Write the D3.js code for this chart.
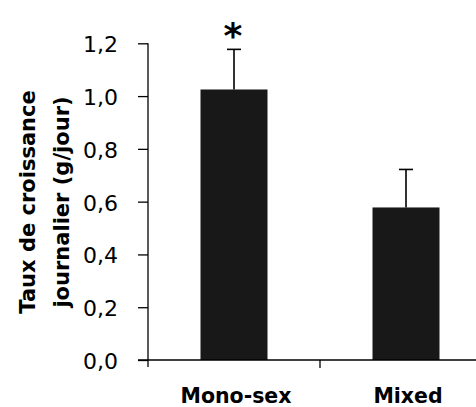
<!DOCTYPE html>
<html>
<head>
<meta charset="utf-8">
<script src="https://cdn.jsdelivr.net/npm/d3@7"></script>
<style>
html, body { margin: 0; padding: 0; background: #fff; }
svg { display: block; }
</style>
</head>
<body>
<svg id="chart" width="476" height="407"></svg>
<script>
const categories = ["Mono-sex", "Mixed"];
const means = [1.025, 0.578];
const errors = [0.152, 0.144];
const significance = ["*", ""];
const yTicks = [0, 0.2, 0.4, 0.6, 0.8, 1.0, 1.2];
const yTitleLines = ["Taux de croissance", "journalier (g/jour)"];

const svg = d3.select("#chart");
const font = "'DejaVu Sans', sans-serif";

const x0 = 148, yBottom = 360, yTop = 43.3;
const bandW = 172;
const x = d3.scaleBand().domain(categories).range([x0, x0 + bandW * categories.length]).paddingInner(0).paddingOuter(0);
const y = d3.scaleLinear().domain([0, 1.2]).range([yBottom, yTop]);
const barW = 67;

// bars
svg.selectAll("rect.bar").data(categories).enter().append("rect")
  .attr("class", "bar")
  .attr("x", d => x(d) + x.bandwidth() / 2 - barW / 2)
  .attr("y", (d, i) => y(means[i]))
  .attr("width", barW)
  .attr("height", (d, i) => y(0) - y(means[i]))
  .attr("fill", "#181818");

// error bars (upper only)
const eb = svg.append("g").attr("stroke", "#000").attr("stroke-width", 1.6);
categories.forEach((c, i) => {
  const cx = x(c) + x.bandwidth() / 2;
  eb.append("line").attr("x1", cx).attr("x2", cx).attr("y1", y(means[i])).attr("y2", y(means[i] + errors[i]));
  eb.append("line").attr("x1", cx - 7).attr("x2", cx + 7).attr("y1", y(means[i] + errors[i])).attr("y2", y(means[i] + errors[i]));
});

// significance
svg.selectAll("text.sig").data(categories).enter().append("text")
  .attr("class", "sig")
  .attr("x", d => x(d) + x.bandwidth() / 2 - 1)
  .attr("y", (d, i) => y(means[i] + errors[i]) - 1)
  .attr("text-anchor", "middle")
  .attr("font-family", font).attr("font-weight", "bold").attr("font-size", 36)
  .text((d, i) => significance[i]);

// y axis
const yAxis = d3.axisLeft(y).tickValues(yTicks).tickSize(10).tickPadding(20)
  .tickFormat(d => d3.format(".1f")(d).replace(".", ","));
const gy = svg.append("g").attr("transform", `translate(${x0},0)`).call(yAxis);
gy.select(".domain").remove();
gy.append("line").attr("x1", 0).attr("x2", 0).attr("y1", yTop).attr("y2", yBottom + 7).attr("stroke", "#000").attr("stroke-width", 1.3);
gy.selectAll(".tick line").attr("stroke", "#000").attr("stroke-width", 1.3);
gy.selectAll(".tick text").attr("font-family", font).attr("font-size", 22).attr("fill", "#000").attr("dy", "0.38em");

// x axis
const gx = svg.append("g").attr("transform", `translate(0,${yBottom})`);
gx.append("line").attr("x1", x0 - 10).attr("x2", 476).attr("y1", 0).attr("y2", 0).attr("stroke", "#000").attr("stroke-width", 1.3);
gx.selectAll("line.sep").data(categories.slice(1)).enter().append("line")
  .attr("class", "sep")
  .attr("x1", d => x(d)).attr("x2", d => x(d)).attr("y1", 0).attr("y2", 8)
  .attr("stroke", "#000").attr("stroke-width", 1.3);
gx.selectAll("text.cat").data(categories).enter().append("text")
  .attr("class", "cat")
  .attr("x", d => x(d) + x.bandwidth() / 2 + 2)
  .attr("y", 43)
  .attr("text-anchor", "middle")
  .attr("font-family", font).attr("font-weight", "bold").attr("font-size", 20.5)
  .text(d => d);

// y title
const yt = svg.append("text")
  .attr("transform", "translate(35,202) rotate(-90)")
  .attr("text-anchor", "middle")
  .attr("font-family", font).attr("font-weight", "bold").attr("font-size", 21);
yTitleLines.forEach((t, i) => {
  yt.append("tspan").attr("x", 0).attr("dy", i === 0 ? 0 : 34).text(t);
});
</script>
</body>
</html>
